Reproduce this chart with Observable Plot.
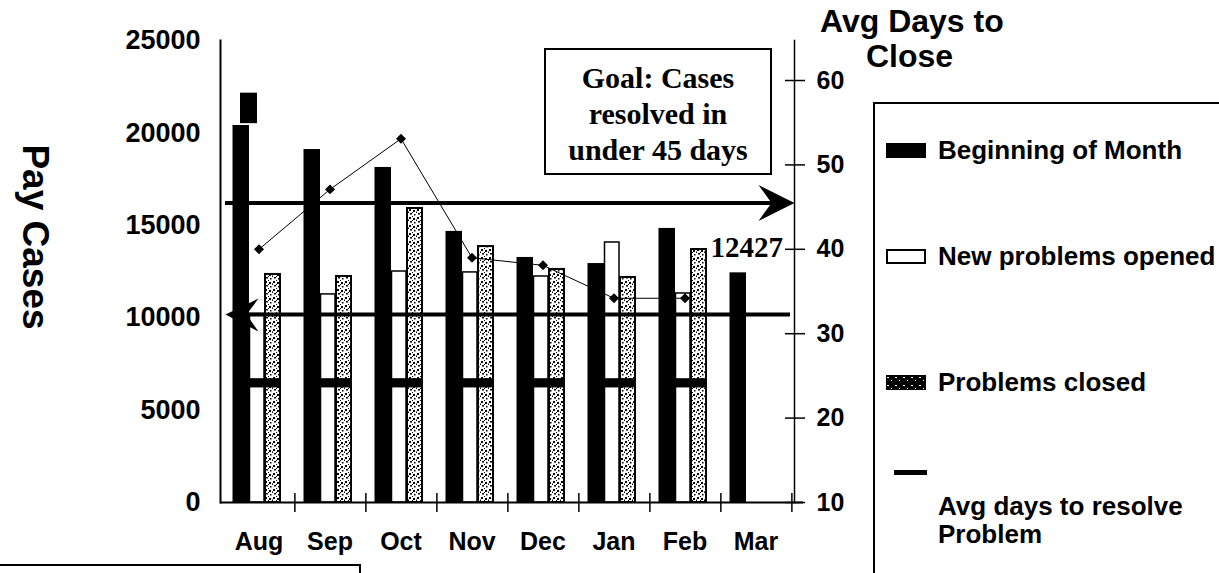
<!DOCTYPE html>
<html>
<head>
<meta charset="utf-8">
<script src="https://cdn.jsdelivr.net/npm/d3@7"></script>
<script src="https://cdn.jsdelivr.net/npm/@observablehq/plot@0.6"></script>
<style>
  body { margin: 0; background: #fff; }
  #wrap { position: relative; width: 1219px; height: 573px; overflow: hidden; background: #fff; }
  .ov { position: absolute; white-space: nowrap; color: #000; }
  .sans { font-family: "Liberation Sans", Arial, sans-serif; font-weight: bold; }
  .serif { font-family: "Liberation Serif", "Times New Roman", serif; font-weight: bold; }
</style>
</head>
<body>
<svg width="0" height="0" style="position:absolute">
  <defs>
    <pattern id="stipple" width="8" height="8" patternUnits="userSpaceOnUse">
      <rect width="8" height="8" fill="#fff"/>
      <rect x="1" y="1" width="2" height="2" fill="#000"/>
      <rect x="5" y="2" width="2" height="2" fill="#000"/>
      <rect x="2" y="5" width="2" height="1.5" fill="#000"/>
      <rect x="6" y="6" width="1.5" height="1.5" fill="#000"/>
      <rect x="4" y="0" width="1" height="1" fill="#000"/>
      <rect x="0" y="3.5" width="1" height="1.5" fill="#000"/>
      <rect x="4" y="4" width="1" height="1" fill="#000"/>
    </pattern>
    <pattern id="stippleDark" width="8" height="8" patternUnits="userSpaceOnUse">
      <rect width="8" height="8" fill="#000"/>
      <rect x="1" y="2" width="2" height="1" fill="#fff"/>
      <rect x="5" y="5" width="1" height="1" fill="#fff"/>
    </pattern>
  </defs>
</svg>
<div id="wrap"></div>
<script>
// ---------------- data ----------------
const months = ["Aug", "Sep", "Oct", "Nov", "Dec", "Jan", "Feb", "Mar"];
const beginningOfMonth = [20400, 19100, 18130, 14670, 13260, 12930, 14830, 12427];
const newProblemsOpened = [10200, 11260, 12500, 12450, 12230, 14070, 11310, null];
const problemsClosed = [12340, 12230, 15910, 13850, 12610, 12175, 13690, null];
const avgDaysToResolve = [40.0, 47.1, 53.1, 39.0, 38.1, 34.2, 34.2, null];
const leftTicks = [0, 5000, 10000, 15000, 20000, 25000];
const rightTicks = [10, 20, 30, 40, 50, 60];
const caseDomain = [0, 25000];
const dayDomain = [10, 64.74];
const goalDays = 45.5;          // thick arrow line pointing to the right axis
const caseLevel = [10170];       // thick arrow line pointing to the left axis
const marchLabel = [12427];
const topBlockMonth = ["Aug"];   // stray black block above the Aug bar
const topBlockRange = [20500, 22150];
const smudgeRange = [6200, 6700]; // dark smear band across the open/closed bars
const legendLabels = ["Beginning of Month", "New problems opened", "Problems closed", "Avg days to resolve", "Problem"];

// ---------------- layout ----------------
const W = 1219, H = 573, mL = 220, mT = 40, mB = 71, mR = 425;
const band = (W - mL - mR) / months.length;
const toCases = d => (d - dayDomain[0]) / (dayDomain[1] - dayDomain[0]) * (caseDomain[1] - caseDomain[0]) + caseDomain[0];
const toDays = c => (c - caseDomain[0]) / (caseDomain[1] - caseDomain[0]) * (dayDomain[1] - dayDomain[0]) + dayDomain[0];

const rows = months.map((m, i) => ({
  month: m, begin: beginningOfMonth[i], opened: newProblemsOpened[i],
  closed: problemsClosed[i], days: avgDaysToResolve[i]
}));
const withOpen = rows.filter(d => d.opened != null);
const withDays = rows.filter(d => d.days != null);

const arrowRight = { draw(ctx) { ctx.moveTo(0, 0); ctx.lineTo(-36, -18); ctx.lineTo(-23, 0); ctx.lineTo(-36, 18); ctx.closePath(); } };
const arrowLeft  = { draw(ctx) { ctx.moveTo(0, 0); ctx.lineTo(33, -16); ctx.lineTo(21, 0); ctx.lineTo(33, 17); ctx.closePath(); } };

const sans = "Liberation Sans, Arial, sans-serif";
const serif = "Liberation Serif, Times New Roman, serif";

const chart = Plot.plot({
  width: W, height: H,
  marginLeft: mL, marginTop: mT, marginBottom: mB, marginRight: mR,
  style: { background: "transparent", fontFamily: sans, overflow: "visible", color: "#000" },
  x: { type: "band", domain: months, padding: 0 },
  y: { domain: caseDomain },
  marks: [
    // bars
    Plot.barY(rows, { x: "month", y: "begin", fill: "#000", insetLeft: 9.5, insetRight: 45 }),
    Plot.barY(topBlockMonth.map(m => ({ month: m })), { x: "month", y1: () => topBlockRange[0], y2: () => topBlockRange[1], fill: "#000", insetLeft: 17, insetRight: 37 }),
    Plot.barY(withOpen, { x: "month", y: "opened", fill: "#fff", stroke: "#000", strokeWidth: 1.5, insetLeft: 26.5, insetRight: 30 }),
    Plot.barY(withOpen, { x: "month", y: "closed", fill: "url(#stipple)", stroke: "#000", strokeWidth: 2, insetLeft: 42, insetRight: 14 }),
    Plot.barY(withOpen, { x: "month", y1: () => smudgeRange[0], y2: () => smudgeRange[1], fill: "#000", insetLeft: 26, insetRight: 14 }),
    // arrow lines
    Plot.ruleY([toCases(goalDays)], { stroke: "#000", strokeWidth: 4, insetLeft: 5, insetRight: 12 }),
    Plot.dot([toCases(goalDays)], { y: d => d, frameAnchor: "right", symbol: arrowRight, fill: "#000", stroke: "none", r: 1 }),
    Plot.ruleY(caseLevel, { stroke: "#000", strokeWidth: 4, insetLeft: 20, insetRight: 4 }),
    Plot.dot(caseLevel, { y: d => d, frameAnchor: "left", dx: 5, symbol: arrowLeft, fill: "#000", stroke: "none", r: 1 }),
    // avg days line
    Plot.line(withDays, { x: "month", y: d => toCases(d.days), stroke: "#000", strokeWidth: 1 }),
    Plot.dot(withDays, { x: "month", y: d => toCases(d.days), symbol: "diamond2", r: 4.5, fill: "#000", stroke: "none" }),
    // march value label
    Plot.text(marchLabel, { x: () => "Mar", y: d => d, text: d => String(d), textAnchor: "end", dx: 27, dy: -25, fontFamily: serif, fontWeight: "bold", fontSize: 29, fill: "#000" }),
    // axes frame lines
    Plot.ruleY([0], { stroke: "#000", strokeWidth: 2, insetRight: -9 }),
    Plot.frame({ anchor: "left", stroke: "#000", strokeWidth: 2 }),
    Plot.frame({ anchor: "right", stroke: "#000", strokeWidth: 1.5 }),
    Plot.axisY({ anchor: "left", ticks: leftTicks, tickSize: 0, tickPadding: 20, fontSize: 27, fontWeight: "bold", label: null, tickFormat: d => String(d) }),
    Plot.axisY({ anchor: "right", ticks: rightTicks.map(toCases), tickFormat: c => String(Math.round(toDays(c))), tickSize: 20, dx: -10, tickPadding: 12, fontSize: 25, fontWeight: "bold", label: null, strokeWidth: 1.5 }),
    Plot.axisX({ anchor: "bottom", tickSize: 0, tickPadding: 30, fontSize: 25, fontWeight: "bold", label: null }),
    Plot.axisX({ anchor: "bottom", tickSize: 19, dx: band / 2, dy: -9, tickFormat: () => "", label: null, strokeWidth: 1.5 })
  ]
});

const wrap = document.getElementById("wrap");
chart.style.position = "absolute";
chart.style.left = "0px";
chart.style.top = "0px";
wrap.appendChild(chart);

// ---------------- overlays (titles, legend, annotation boxes) ----------------
function el(html, css) {
  const d = document.createElement("div");
  d.className = "ov";
  d.innerHTML = html;
  Object.assign(d.style, css);
  wrap.appendChild(d);
  return d;
}
// sans text placed so that its cap-height centre lands on capY
function sansText(txt, left, capY, size) {
  const d = el("", { left: left + "px", top: (capY - 0.488 * size) + "px", fontSize: size + "px", lineHeight: size + "px" });
  d.classList.add("sans");
  d.textContent = txt;
  return d;
}

// left axis title, rotated
const lt = el("", { left: "35px", top: "237px", fontSize: "37px", lineHeight: "37px", transform: "translate(-50%,-50%) rotate(90deg)" });
lt.classList.add("sans");
lt.textContent = "Pay Cases";

// right axis title
sansText("Avg Days to", 820, 21, 32);
sansText("Close", 866, 56, 32);

// goal box
const goal = el("", {
  left: "544px", top: "48px", width: "228px", height: "127px", boxSizing: "border-box",
  border: "2px solid #000", background: "#fff", textAlign: "center",
  fontSize: "30px", lineHeight: "36px", paddingTop: "10px"
});
goal.classList.add("serif");
goal.innerHTML = "Goal: Cases<br>resolved in<br>under 45 days";

// legend box
el("", { left: "873px", top: "102px", width: "400px", height: "520px", boxSizing: "border-box", border: "2px solid #000", background: "#fff" });
el("", { left: "886px", top: "143px", width: "40px", height: "15px", background: "#000" });
el("", { left: "886px", top: "249px", width: "40px", height: "15px", boxSizing: "border-box", border: "2px solid #000", background: "#fff" });
el('<svg width="40" height="15"><rect width="40" height="15" fill="url(#stippleDark)"/></svg>', { left: "886px", top: "375px", width: "40px", height: "15px", lineHeight: "0" });
el("", { left: "894px", top: "470px", width: "33px", height: "5px", background: "#000" });
sansText(legendLabels[0], 938, 150, 26);
sansText(legendLabels[1], 938, 256, 26);
sansText(legendLabels[2], 938, 382, 26);
sansText(legendLabels[3], 938, 506, 26);
sansText(legendLabels[4], 938, 534, 26);

// bottom-left partial box
el("", { left: "-3px", top: "564px", width: "364px", height: "30px", boxSizing: "border-box", border: "2px solid #000", background: "#fff" });
</script>
</body>
</html>
